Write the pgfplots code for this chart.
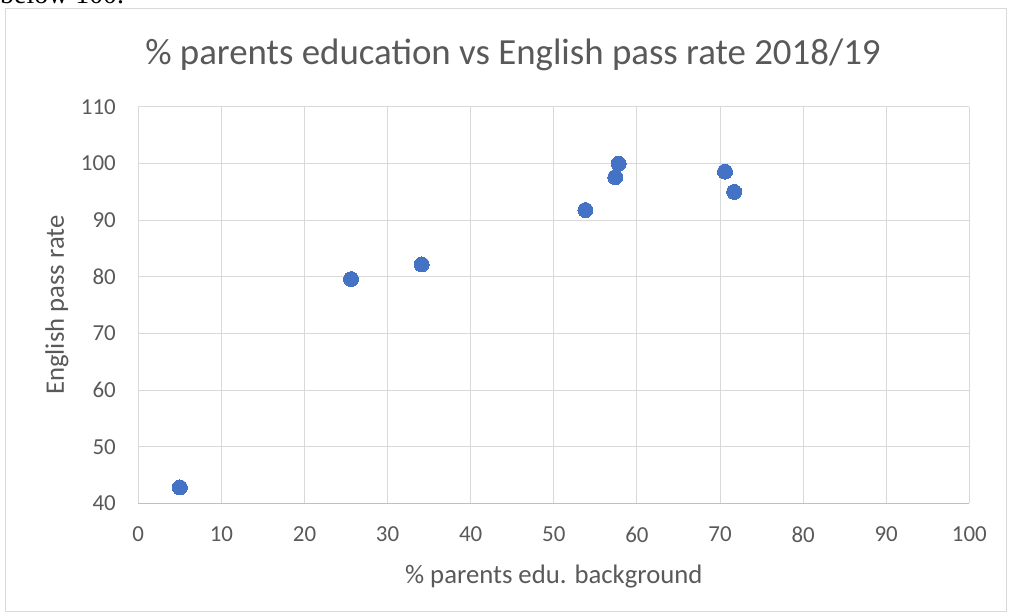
\documentclass[border=0pt]{standalone}
\usepackage{fontspec}
\setmainfont{Carlito}
\newfontfamily\seriffont{Liberation Serif}
\usepackage{pgfplots}
\pgfplotsset{compat=1.18}
\definecolor{mblue}{HTML}{4472C4}
\definecolor{gridc}{HTML}{D9D9D9}
\definecolor{axisc}{HTML}{BFBFBF}
\definecolor{txt}{HTML}{595959}
\begin{document}
\begin{tikzpicture}[x=1bp,y=1bp]
\useasboundingbox (0,0) rectangle (1009,615);
\begin{scope}
\clip (0,0) rectangle (1009,615);
\node[anchor=base west, inner sep=0, font=\seriffont\fontsize{28}{28}\selectfont] at (0,611.5) {below 100.};
\end{scope}
\draw[gridc, line width=1bp] (5.5,3.5) rectangle (1006.5,606);
\node[anchor=base, inner sep=0, text=txt, font=\fontsize{37}{37}\selectfont] at (513,550) {\% parents education vs English pass rate 2018/19};
\begin{axis}[
  at={(138.3bp,111.7bp)}, anchor=south west,
  scale only axis, width=831bp, height=396.3bp,
  xmin=0, xmax=100, ymin=40, ymax=110,
  xtick distance=10, ytick distance=10,
  grid=major, major grid style={gridc, line width=1bp},
  axis line style={draw=none}, tick style={draw=none},
  major tick length=0pt,
  /pgf/number format/assume math mode=true,
  ticklabel style={font=\fontsize{23}{23}\selectfont, text=txt},
  xticklabel style={anchor=north, yshift=-20bp},
  yticklabel style={anchor=east, xshift=-19bp},
  xlabel={\% parents edu. background},
  ylabel={English pass rate},
  label style={font=\fontsize{26.8}{26.8}\selectfont, text=txt},
  xlabel style={at={(axis description cs:0.5,0)}, anchor=base, yshift=-80bp},
  ylabel style={at={([xshift=-74.3bp]axis description cs:0,0.5)}, anchor=base},
  clip=false,
]
\draw[axisc, line width=1bp] (axis cs:0,40) -- (axis cs:100,40);
\addplot[only marks, mark=*, mark size=7.5bp, mark options={fill=mblue, draw=mblue, line width=0pt}] coordinates {
  (5.0,42.8) (25.6,79.6) (34.1,82.2) (53.8,91.8) (57.4,97.6) (57.8,100.0) (70.6,98.6) (71.7,95.0)
};
\end{axis}
\end{tikzpicture}
\end{document}
